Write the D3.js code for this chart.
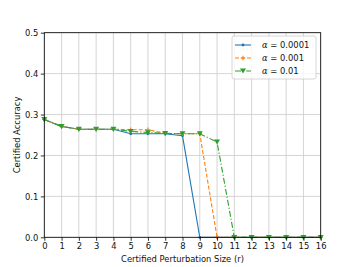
<!DOCTYPE html>
<html>
<head>
<meta charset="utf-8">
<script src="https://cdn.jsdelivr.net/npm/d3@7"></script>
<style>
  body { margin: 0; background: #fff; }
  text { font-family: "DejaVu Sans", sans-serif; }
</style>
</head>
<body>
<div id="chart"></div>
<script>
const WIDTH = 356;
const HEIGHT = 267;

// data
var radii = [0, 1, 2, 3, 4, 5, 6, 7, 8, 9, 10, 11, 12, 13, 14, 15, 16];
var acc0001 = [0.288, 0.271, 0.264, 0.264, 0.264, 0.253, 0.253, 0.253, 0.248, 0, 0, 0, 0, 0, 0, 0, 0];
var acc001 = [0.288, 0.271, 0.264, 0.264, 0.264, 0.263, 0.263, 0.254, 0.253, 0.253, 0, 0, 0, 0, 0, 0, 0];
var acc01 = [0.288, 0.271, 0.264, 0.264, 0.264, 0.259, 0.256, 0.254, 0.253, 0.253, 0.233, 0, 0, 0, 0, 0, 0];
var xTicks = [0, 1, 2, 3, 4, 5, 6, 7, 8, 9, 10, 11, 12, 13, 14, 15, 16];
var yTicks = [0, 0.1, 0.2, 0.3, 0.4, 0.5];
var labels = ["0.0001", "0.001", "0.01"];

var series = [
  { vals: acc0001, color: "#1f77b4", dash: null, marker: "dot" },
  { vals: acc001, color: "#ff7f0e", dash: "4,2", marker: "plus" },
  { vals: acc01, color: "#2ca02c", dash: "6,2,1.2,2", marker: "tri" }
];

var x = d3.scaleLinear().domain([0, 16]).range([44.3, 320.7]);
var y = d3.scaleLinear().domain([0, 0.5]).range([237.3, 32.7]);

var svg = d3.select("#chart").append("svg")
    .attr("width", WIDTH)
    .attr("height", HEIGHT);

// grid
svg.append("g").selectAll("line")
    .data(xTicks)
    .enter().append("line")
    .attr("x1", d => x(d)).attr("x2", d => x(d))
    .attr("y1", y(0)).attr("y2", y(0.5))
    .attr("stroke", "#d0d0d0").attr("stroke-width", 0.9);
svg.append("g").selectAll("line")
    .data(yTicks)
    .enter().append("line")
    .attr("y1", d => y(d)).attr("y2", d => y(d))
    .attr("x1", x(0)).attr("x2", x(16))
    .attr("stroke", "#d0d0d0").attr("stroke-width", 0.9);

function drawMarker(g, s, px, py) {
  if (s.marker == "dot") {
    g.append("circle").attr("cx", px).attr("cy", py).attr("r", 1.4).attr("fill", s.color);
  } else if (s.marker == "plus") {
    g.append("path")
      .attr("d", `M${px - 2.3},${py}H${px + 2.3}M${px},${py - 2.3}V${py + 2.3}`)
      .attr("stroke", s.color).attr("stroke-width", 1.1);
  } else {
    g.append("path")
      .attr("d", `M${px - 3},${py - 2.4}L${px + 3},${py - 2.4}L${px},${py + 2.6}Z`)
      .attr("fill", s.color);
  }
}

var line = d3.line().x((d, i) => x(radii[i])).y(d => y(d));

series.forEach(s => {
  var g = svg.append("g");
  g.append("path")
    .datum(s.vals)
    .attr("d", line)
    .attr("fill", "none")
    .attr("stroke", s.color)
    .attr("stroke-width", 1.1)
    .attr("stroke-dasharray", s.dash);
  s.vals.forEach((v, i) => drawMarker(g, s, x(radii[i]), y(v)));
});

// axes
var xAxis = svg.append("g")
    .attr("transform", `translate(0,${y(0)})`)
    .call(d3.axisBottom(x).tickValues(xTicks).tickSize(3.5).tickPadding(2.5).tickFormat(d3.format("d")));
var yAxis = svg.append("g")
    .attr("transform", `translate(${x(0)},0)`)
    .call(d3.axisLeft(y).tickValues(yTicks).tickSize(3.5).tickPadding(2.5).tickFormat(d3.format(".1f")));
[xAxis, yAxis].forEach(a => {
  a.select(".domain").remove();
  a.selectAll("text").attr("font-size", 8.4).attr("fill", "#111").style("font-family", "DejaVu Sans");
  a.selectAll("line").attr("stroke", "#000").attr("stroke-width", 0.8);
});

// frame
svg.append("rect")
    .attr("x", x(0)).attr("y", y(0.5))
    .attr("width", x(16) - x(0)).attr("height", y(0) - y(0.5))
    .attr("fill", "none").attr("stroke", "#000").attr("stroke-width", 0.8);

// labels
svg.append("text")
    .attr("x", (x(0) + x(16)) / 2).attr("y", 262)
    .attr("text-anchor", "middle").attr("font-size", 8.4).attr("fill", "#111")
    .text("Certified Perturbation Size (r)");
svg.append("text")
    .attr("transform", `translate(19.5,${(y(0) + y(0.5)) / 2}) rotate(-90)`)
    .attr("text-anchor", "middle").attr("font-size", 8.4).attr("fill", "#111")
    .text("Certified Accuracy");

// legend
var leg = svg.append("g").attr("transform", "translate(232,36)");
leg.append("rect")
    .attr("width", 84).attr("height", 43).attr("rx", 2)
    .attr("fill", "#fff").attr("fill-opacity", 0.8)
    .attr("stroke", "#ccc").attr("stroke-width", 0.8);
series.forEach((s, i) => {
  var ly = 9 + i * 13;
  leg.append("line")
    .attr("x1", 3).attr("x2", 19).attr("y1", ly).attr("y2", ly)
    .attr("stroke", s.color).attr("stroke-width", 1.1)
    .attr("stroke-dasharray", s.dash);
  drawMarker(leg, s, 11, ly);
  var t = leg.append("text").attr("x", 30).attr("y", ly + 3).attr("font-size", 8.4).attr("fill", "#111");
  t.append("tspan").attr("font-style", "italic").style("font-family", "DejaVu Serif").text("α");
  t.append("tspan").text(" = " + labels[i]);
});
</script>
</body>
</html>
